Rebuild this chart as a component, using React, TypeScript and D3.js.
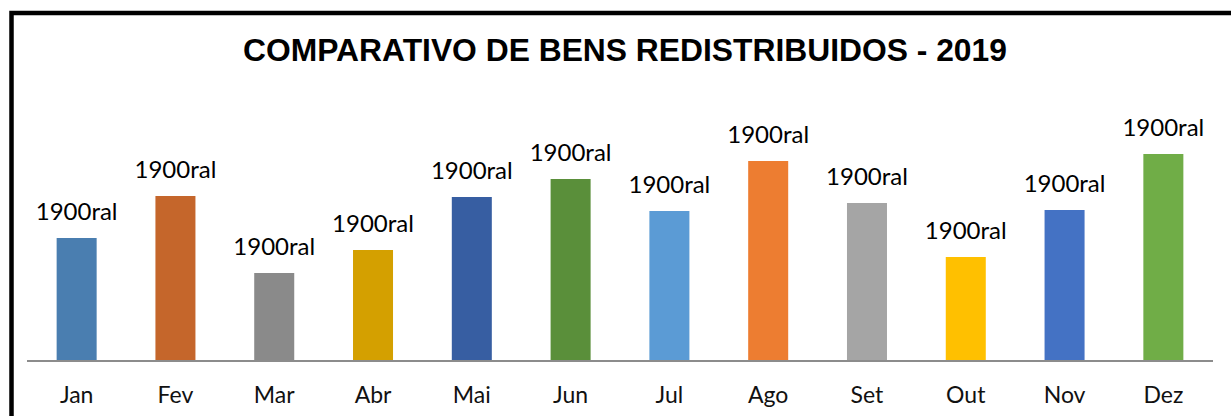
import React, { useEffect, useRef } from 'react';
import * as d3 from 'd3';

const months = ['Jan', 'Fev', 'Mar', 'Abr', 'Mai', 'Jun', 'Jul', 'Ago', 'Set', 'Out', 'Nov', 'Dez'];
const values = [123, 165, 88, 111, 164, 182, 150, 200, 158, 104, 151, 207];
const labels = ['1900ral', '1900ral', '1900ral', '1900ral', '1900ral', '1900ral', '1900ral', '1900ral', '1900ral', '1900ral', '1900ral', '1900ral'];
const colors = ['#4a7eb0', '#c5662b', '#8a8a8a', '#d4a000', '#375ea2', '#5a8f3a', '#5b9bd5', '#ed7d31', '#a5a5a5', '#ffc000', '#4472c4', '#70ad47'];

const title = 'COMPARATIVO DE BENS REDISTRIBUIDOS - 2019';

const App = () => {
  const ref = useRef<SVGSVGElement>(null);

  useEffect(() => {
    const width = 1231;
    const height = 416;
    const svg = d3.select(ref.current);
    svg.selectAll('*').remove();

    // outer frame (runs past the right and bottom edges)
    svg.append('rect')
      .attr('x', 11.5)
      .attr('y', 13)
      .attr('width', 1300)
      .attr('height', 500)
      .attr('fill', 'white')
      .attr('stroke', 'black')
      .attr('stroke-width', 4.5);

    svg.append('text')
      .attr('x', 625)
      .attr('y', 61)
      .attr('text-anchor', 'middle')
      .attr('font-family', 'Liberation Sans, Arial, sans-serif')
      .attr('font-weight', 'bold')
      .attr('font-size', 31.8)
      .text(title);

    const baseline = 361;
    const x = d3.scaleBand()
      .domain(months)
      .range([27, 1213])
      .paddingInner(0.595)
      .paddingOuter(0.3);

    const y = d3.scaleLinear()
      .domain([0, d3.max(values) as number])
      .range([baseline, 154]);

    const graph = svg.append('g');

    graph.selectAll('rect.bar')
      .data(values)
      .enter()
      .append('rect')
      .attr('class', 'bar')
      .attr('x', (d, i) => x(months[i]) as number)
      .attr('y', d => y(d))
      .attr('width', x.bandwidth())
      .attr('height', d => baseline - y(d))
      .attr('fill', (d, i) => colors[i]);

    graph.selectAll('text.lbl')
      .data(values)
      .enter()
      .append('text')
      .attr('class', 'lbl')
      .attr('x', (d, i) => (x(months[i]) as number) + x.bandwidth() / 2)
      .attr('y', d => y(d) - 18)
      .attr('text-anchor', 'middle')
      .attr('font-family', 'Lato, sans-serif')
      .attr('font-size', 24)
      .attr('fill', '#000')
      .text((d, i) => labels[i]);

    const xAxis = d3.axisBottom(x).tickSize(0).tickPadding(26);
    const xAxisGroup = graph.append('g')
      .attr('transform', `translate(0, ${baseline})`)
      .call(xAxis);
    xAxisGroup.select('.domain')
      .attr('d', `M27,0H1213`)
      .attr('stroke', '#8c8c8c')
      .attr('stroke-width', 2);
    xAxisGroup.selectAll('text')
      .attr('font-family', 'Lato, sans-serif')
      .attr('font-size', 23)
      .attr('fill', '#111');

    svg.attr('width', width).attr('height', height);
  }, []);

  return (
    <svg ref={ref} width={1231} height={416} style={{ position: 'absolute', left: 0, top: 0 }} />
  );
};

export default App;
